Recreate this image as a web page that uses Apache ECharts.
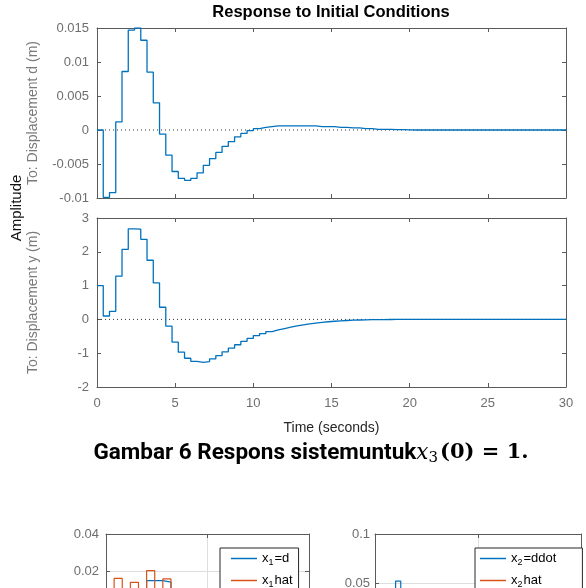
<!DOCTYPE html>
<html>
<head>
<meta charset="utf-8">
<script src="https://cdn.jsdelivr.net/npm/echarts@6/dist/echarts.min.js"></script>
<style>
  html, body { margin: 0; padding: 0; background: #fff; }
  #chart { width: 586px; height: 588px; }
</style>
</head>
<body>
<div id="chart"></div>
<script>
// sample time of the discrete response (s)
const Ts = 0.4
const tEnd = 30

// To: Displacement d (m), one value per sample
const dValues = [
  0, -0.0099, -0.0092, 0.0012, 0.0086, 0.0147, 0.015, 0.0132, 0.0085, 0.004,
  -0.0006, -0.0037, -0.0061, -0.0071, -0.0074, -0.0071, -0.0063, -0.0052, -0.0042, -0.0033,
  -0.0024, -0.0017, -0.001, -0.0005, -0.0001, 0.0002, 0.0004, 0.0005, 0.0006, 0.0006,
  0.0006, 0.0006, 0.0006, 0.0006, 0.0006, 0.0005, 0.0005, 0.0005, 0.0004, 0.0004,
  0.0003, 0.0003, 0.0002, 0.0002, 0.0001, 0.0001, 0.0001, 0.00005, 0.00005, 0.00003,
  0, 0, 0, 0, 0, 0, 0, 0, 0, 0,
  0, 0, 0, 0, 0, 0, 0, 0, 0, 0,
  0, 0, 0, 0, 0
]

// To: Displacement y (m)
const yValues = [
  1.0, 0.1, 0.24, 1.28, 2.07, 2.68, 2.67, 2.37, 1.75, 1.08,
  0.36, -0.2, -0.67, -0.97, -1.15, -1.24, -1.27, -1.25, -1.17, -1.07,
  -0.96, -0.85, -0.75, -0.65, -0.56, -0.48, -0.42, -0.36, -0.31, -0.27,
  -0.23, -0.19, -0.16, -0.13, -0.11, -0.09, -0.07, -0.055, -0.042, -0.032,
  -0.024, -0.018, -0.013, -0.009, -0.006, -0.004, -0.003, -0.002, -0.001, 0,
  0, 0, 0, 0, 0, 0, 0, 0, 0, 0,
  0, 0, 0, 0, 0, 0, 0, 0, 0, 0,
  0, 0, 0, 0, 0
]

// lower panels (cut off at the bottom of the page), per sample index
const x1Values = [
  0, -0.0099, -0.0092, 0.0012, 0.0086, 0.0148, 0.0148, 0.014, 0.0085, 0.004,
  -0.0006, -0.0037, -0.0061, -0.0071, -0.0074, -0.0071, -0.0063, -0.0052, -0.0042, -0.0033,
  -0.0024, -0.0017, -0.001, -0.0005, -0.0001
]
const x1HatValues = [
  -0.01, 0.016, -0.012, 0.0139, -0.012, 0.0202, -0.01, 0.0157, -0.008, 0.005,
  -0.004, 0.002, -0.005, -0.006, -0.007, -0.007, -0.006, -0.005, -0.004, -0.003,
  -0.002, -0.002, -0.001, -0.0005, 0
]
const x2Values = [
  0, -0.03, 0.01, 0.02, 0.052, 0.02, 0.01, -0.01, -0.02, -0.02,
  -0.015, -0.01, -0.005, 0, 0, 0, 0, 0, 0, 0
]
const x2HatValues = [
  0, -0.04, 0.02, -0.02, 0.03, -0.01, 0.01, -0.01, -0.02, -0.015,
  -0.01, -0.005, 0, 0, 0, 0, 0, 0, 0, 0
]

const blue = '#0072BD'
const orange = '#D95319'
const tickGray = '#6e6e6e'
const boxColor = '#5a5a5a'

// [t, v] pairs for a stair plot, closed at the end time
function stairs(values, dt, end) {
  const pts = values.map((v, k) => [k * dt, v])
  pts.push([end, values[values.length - 1]])
  return pts
}

function boxAxis(extra) {
  return Object.assign({
    type: 'value',
    axisLine: { show: true, onZero: false, lineStyle: { color: boxColor, width: 1 } },
    axisTick: { show: true, inside: true, length: 4, lineStyle: { color: boxColor } },
    axisLabel: { show: false },
    splitLine: { show: false }
  }, extra)
}

const labelStyle = { show: true, color: tickGray, fontSize: 13, fontFamily: 'Liberation Sans, Arial, sans-serif' }
const gridLine = { show: true, lineStyle: { color: '#dedede', width: 1 } }
const legendRich = { a: { fontSize: 13, color: '#000' }, s: { fontSize: 9, color: '#000', padding: [8, 1, 0, 0] } }

const chart = echarts.init(document.getElementById('chart'), null, { renderer: 'canvas' })

chart.setOption({
  animation: false,
  textStyle: { fontFamily: 'Liberation Sans, Arial, sans-serif' },
  grid: [
    { left: 97, top: 28, width: 469, height: 170, outerBoundsMode: 'none' },
    { left: 97, top: 218, width: 469, height: 169, outerBoundsMode: 'none' },
    { left: 106, top: 534, width: 203, height: 148, outerBoundsMode: 'none' },
    { left: 375, top: 534, width: 206, height: 196, outerBoundsMode: 'none' }
  ],
  xAxis: [
    boxAxis({ gridIndex: 0, min: 0, max: tEnd, interval: 5, position: 'bottom' }),
    boxAxis({ gridIndex: 0, min: 0, max: tEnd, interval: 5, position: 'top' }),
    boxAxis({
      gridIndex: 1, min: 0, max: tEnd, interval: 5, position: 'bottom',
      axisLabel: Object.assign({ margin: 10 }, labelStyle),
      name: 'Time (seconds)', nameLocation: 'middle', nameGap: 34,
      nameTextStyle: { color: '#262626', fontSize: 14 }
    }),
    boxAxis({ gridIndex: 1, min: 0, max: tEnd, interval: 5, position: 'top' }),
    boxAxis({ gridIndex: 2, min: 0, max: 25, interval: 12.5, position: 'bottom', splitLine: gridLine }),
    boxAxis({ gridIndex: 2, min: 0, max: 25, interval: 12.5, position: 'top' }),
    boxAxis({ gridIndex: 3, min: 0, max: 40, interval: 20, position: 'bottom', splitLine: gridLine }),
    boxAxis({ gridIndex: 3, min: 0, max: 40, interval: 20, position: 'top' })
  ],
  yAxis: [
    boxAxis({
      gridIndex: 0, min: -0.01, max: 0.015, interval: 0.005, position: 'left',
      axisLabel: Object.assign({ margin: 8 }, labelStyle),
      name: 'To: Displacement d (m)', nameLocation: 'middle', nameGap: 57,
      nameTextStyle: { color: '#7a7a7a', fontSize: 14 }
    }),
    boxAxis({ gridIndex: 0, min: -0.01, max: 0.015, interval: 0.005, position: 'right' }),
    boxAxis({
      gridIndex: 1, min: -2, max: 3, interval: 1, position: 'left',
      axisLabel: Object.assign({ margin: 8 }, labelStyle),
      name: 'To: Displacement y (m)', nameLocation: 'middle', nameGap: 57,
      nameTextStyle: { color: '#7a7a7a', fontSize: 14 }
    }),
    boxAxis({ gridIndex: 1, min: -2, max: 3, interval: 1, position: 'right' }),
    boxAxis({
      gridIndex: 2, min: -0.04, max: 0.04, interval: 0.02, position: 'left',
      axisLabel: Object.assign({ margin: 7 }, labelStyle), splitLine: gridLine
    }),
    boxAxis({ gridIndex: 2, min: -0.04, max: 0.04, interval: 0.02, position: 'right' }),
    boxAxis({
      gridIndex: 3, min: -0.1, max: 0.1, interval: 0.05, position: 'left',
      axisLabel: Object.assign({ margin: 5 }, labelStyle), splitLine: gridLine
    }),
    boxAxis({ gridIndex: 3, min: -0.1, max: 0.1, interval: 0.05, position: 'right' })
  ],
  legend: [
    {
      data: ['x1=d', 'x1hat'],
      orient: 'vertical', left: 220, top: 548, height: 80,
      borderColor: '#262626', borderWidth: 1, backgroundColor: '#fff',
      padding: [4, 6, 4, 11], itemGap: 7, itemWidth: 26, itemHeight: 1.5, icon: 'rect',
      formatter: name => name === 'x1=d' ? '{a|x}{s|1}{a|=d}' : '{a|x}{s|1}{a|hat}',
      textStyle: { color: '#000', fontSize: 13, rich: legendRich }
    },
    {
      data: ['x2=ddot', 'x2hat'],
      orient: 'vertical', left: 475, top: 548, height: 80,
      borderColor: '#262626', borderWidth: 1, backgroundColor: '#fff',
      padding: [4, 26, 4, 5], itemGap: 7, itemWidth: 26, itemHeight: 1.5, icon: 'rect',
      formatter: name => name === 'x2=ddot' ? '{a|x}{s|2}{a|=ddot}' : '{a|x}{s|2}{a|hat}',
      textStyle: { color: '#000', fontSize: 13, rich: legendRich }
    }
  ],
  graphic: [
    {
      type: 'text', x: 331, y: 12,
      style: {
        text: 'Response to Initial Conditions', textAlign: 'center', textVerticalAlign: 'middle',
        font: 'bold 16.5px "Liberation Sans", Arial, sans-serif', fill: '#000'
      }
    },
    {
      type: 'text', x: 17, y: 208, rotation: Math.PI / 2,
      style: {
        text: 'Amplitude', textAlign: 'center', textVerticalAlign: 'middle',
        font: '15px "Liberation Sans", Arial, sans-serif', fill: '#111'
      }
    },
    {
      type: 'text', x: 311, y: 453,
      style: {
        text: '{a|Gambar 6 Respons sistemuntuk}{m|x}{s|3}{b|(0) = 1.}',
        textAlign: 'center', textVerticalAlign: 'middle',
        rich: {
          a: { fontSize: 22.5, fontWeight: 'bold', fontFamily: 'Roboto, "Liberation Sans", sans-serif', color: '#000' },
          m: { fontSize: 21.5, fontStyle: 'italic', fontFamily: '"DejaVu Serif", "Liberation Serif", serif', color: '#000' },
          s: { fontSize: 15, fontFamily: '"DejaVu Serif", "Liberation Serif", serif', color: '#000', padding: [10, 2, 0, 0] },
          b: { fontSize: 21, fontWeight: 'bold', fontFamily: '"DejaVu Serif", "Liberation Serif", serif', color: '#000' }
        }
      }
    }
  ],
  series: [
    {
      name: 'd', type: 'line', xAxisIndex: 0, yAxisIndex: 0, step: 'end',
      showSymbol: false, data: stairs(dValues, Ts, tEnd),
      lineStyle: { color: blue, width: 1.3 }, itemStyle: { color: blue }
    },
    {
      name: 'zero-d', type: 'line', xAxisIndex: 0, yAxisIndex: 0, showSymbol: false, silent: true,
      data: [[0, 0], [tEnd, 0]], lineStyle: { color: '#333', width: 1, type: [1, 3] }, z: 1
    },
    {
      name: 'y', type: 'line', xAxisIndex: 2, yAxisIndex: 2, step: 'end',
      showSymbol: false, data: stairs(yValues, Ts, tEnd),
      lineStyle: { color: blue, width: 1.3 }, itemStyle: { color: blue }
    },
    {
      name: 'zero-y', type: 'line', xAxisIndex: 2, yAxisIndex: 2, showSymbol: false, silent: true,
      data: [[0, 0], [tEnd, 0]], lineStyle: { color: '#333', width: 1, type: [1, 3] }, z: 1
    },
    {
      name: 'x1=d', type: 'line', xAxisIndex: 4, yAxisIndex: 4, step: 'end',
      showSymbol: false, data: stairs(x1Values, 1, 25),
      lineStyle: { color: blue, width: 1.2 }, itemStyle: { color: blue }
    },
    {
      name: 'x1hat', type: 'line', xAxisIndex: 4, yAxisIndex: 4, step: 'end',
      showSymbol: false, data: stairs(x1HatValues, 1, 25),
      lineStyle: { color: orange, width: 1.2 }, itemStyle: { color: orange }
    },
    {
      name: 'x2=ddot', type: 'line', xAxisIndex: 6, yAxisIndex: 6, step: 'end',
      showSymbol: false, data: stairs(x2Values, 1, 40),
      lineStyle: { color: blue, width: 1.2 }, itemStyle: { color: blue }
    },
    {
      name: 'x2hat', type: 'line', xAxisIndex: 6, yAxisIndex: 6, step: 'end',
      showSymbol: false, data: stairs(x2HatValues, 1, 40),
      lineStyle: { color: orange, width: 1.2 }, itemStyle: { color: orange }
    }
  ]
})
</script>
</body>
</html>
